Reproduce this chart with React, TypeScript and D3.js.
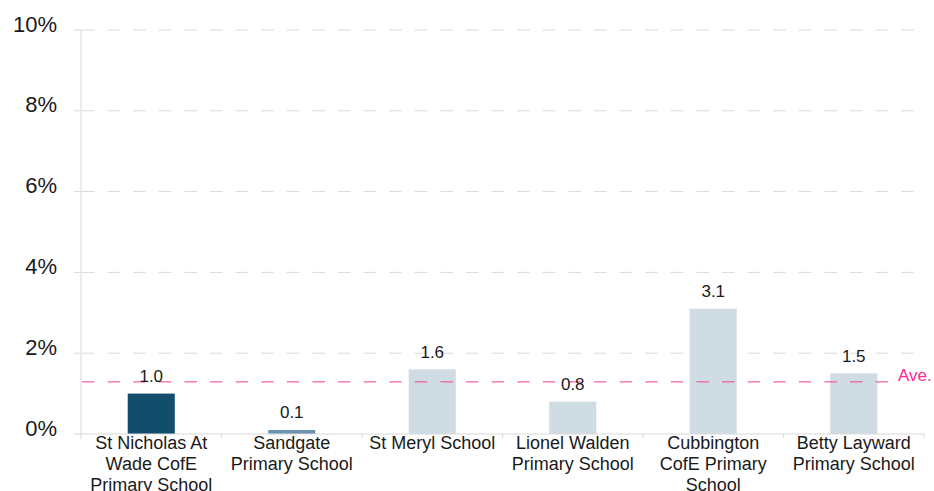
import React, { useEffect, useRef } from "react";
import * as d3 from "d3";

const schools = [
  "St Nicholas At Wade CofE Primary School",
  "Sandgate Primary School",
  "St Meryl School",
  "Lionel Walden Primary School",
  "Cubbington CofE Primary School",
  "Betty Layward Primary School",
];
const values = [1.0, 0.1, 1.6, 0.8, 3.1, 1.5];
const barColors = ["#124e6b", "#6c94b0", "#d0dce4", "#d0dce4", "#d0dce4", "#d0dce4"];
const yTicks = [0, 2, 4, 6, 8, 10];
const average = 1.29;

const W = 934;
const H = 491;
const FONT = "'Liberation Sans', Arial, sans-serif";

const App: React.FC = () => {
  const svgRef = useRef<SVGSVGElement | null>(null);

  useEffect(() => {
    if (!svgRef.current) return;
    const svg = d3.select(svgRef.current);
    svg.selectAll("*").remove();

    const left = 81;
    const right = 924;
    const top = 30;
    const bottom = 434;

    const x = d3.scaleBand<string>().domain(schools).range([left, right]);
    const y = d3.scaleLinear().domain([0, 10]).range([bottom, top]);
    const barW = x.bandwidth() * 0.335;

    // grid
    yTicks.forEach((t) => {
      if (t === 0) return;
      svg
        .append("line")
        .attr("x1", 82)
        .attr("x2", right)
        .attr("y1", y(t))
        .attr("y2", y(t))
        .attr("stroke", "#d9d9d9")
        .attr("stroke-width", 1)
        .attr("stroke-dasharray", "12.5,13.1");
      svg
        .append("line")
        .attr("x1", 74)
        .attr("x2", left)
        .attr("y1", y(t))
        .attr("y2", y(t))
        .attr("stroke", "#d9d9d9");
    });

    // y labels
    svg
      .selectAll(".ylab")
      .data(yTicks)
      .enter()
      .append("text")
      .attr("x", 57)
      .attr("y", (d) => y(d) + 1.5)
      .attr("text-anchor", "end")
      .attr("font-family", FONT)
      .attr("font-size", 22)
      .attr("fill", "#1a1a1a")
      .text((d) => `${d}%`);

    // bars
    svg
      .selectAll(".bar")
      .data(values)
      .enter()
      .append("rect")
      .attr("x", (d, i) => (x(schools[i]) as number) + x.bandwidth() / 2 - barW / 2)
      .attr("y", (d) => y(d))
      .attr("width", barW)
      .attr("height", (d) => bottom - y(d))
      .attr("fill", (d, i) => barColors[i]);

    // axes
    svg
      .append("line")
      .attr("x1", left)
      .attr("x2", left)
      .attr("y1", top)
      .attr("y2", bottom + 5)
      .attr("stroke", "#d9d9d9");
    svg
      .append("line")
      .attr("x1", 74)
      .attr("x2", right)
      .attr("y1", bottom)
      .attr("y2", bottom)
      .attr("stroke", "#d9d9d9");
    schools.forEach((s, i) => {
      const bx = (x(s) as number) + x.bandwidth();
      svg
        .append("line")
        .attr("x1", bx)
        .attr("x2", bx)
        .attr("y1", bottom)
        .attr("y2", bottom + 4)
        .attr("stroke", "#d9d9d9");
    });

    // average line
    svg
      .append("line")
      .attr("x1", 82)
      .attr("x2", 889)
      .attr("y1", y(average))
      .attr("y2", y(average))
      .attr("stroke", "#ee3d95")
      .attr("stroke-width", 1)
      .attr("stroke-dasharray", "12.5,13.1");
    svg
      .append("text")
      .attr("x", 898)
      .attr("y", y(average) - 1)
      .attr("font-family", FONT)
      .attr("font-size", 17)
      .attr("fill", "#ff2a94")
      .text("Ave.");

    // value labels
    svg
      .selectAll(".vlab")
      .data(values)
      .enter()
      .append("text")
      .attr("x", (d, i) => (x(schools[i]) as number) + x.bandwidth() / 2)
      .attr("y", (d) => y(d) - 11.5)
      .attr("text-anchor", "middle")
      .attr("font-family", FONT)
      .attr("font-size", 17)
      .attr("fill", "#1a1a1a")
      .text((d) => d.toFixed(1));

    // category labels, wrapped
    const maxW = 130;
    schools.forEach((s) => {
      const cx = (x(s) as number) + x.bandwidth() / 2;
      const t = svg
        .append("text")
        .attr("text-anchor", "middle")
        .attr("font-family", FONT)
        .attr("font-size", 18)
        .attr("fill", "#1a1a1a");
      const words = s.split(" ");
      let line: string[] = [];
      let lineNo = 0;
      let tspan = t.append("tspan").attr("x", cx).attr("y", 449);
      words.forEach((w) => {
        line.push(w);
        tspan.text(line.join(" "));
        if ((tspan.node() as SVGTSpanElement).getComputedTextLength() > maxW && line.length > 1) {
          line.pop();
          tspan.text(line.join(" "));
          line = [w];
          lineNo++;
          tspan = t
            .append("tspan")
            .attr("x", cx)
            .attr("y", 449 + lineNo * 21)
            .text(w);
        }
      });
    });
  }, []);

  return (
    <svg
      ref={svgRef}
      width={W}
      height={H}
      style={{ position: "absolute", left: 0, top: 0, background: "#fff" }}
    />
  );
};

export default App;
